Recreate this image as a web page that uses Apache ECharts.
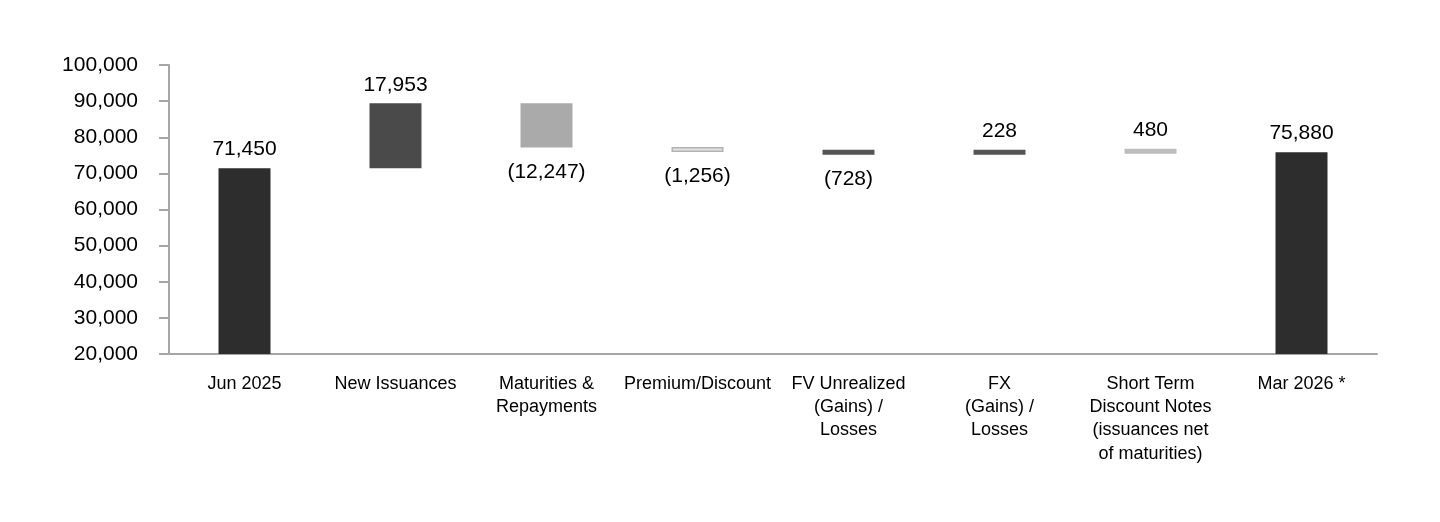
<!DOCTYPE html>
<html><head><meta charset="utf-8">
<script src="https://cdn.jsdelivr.net/npm/echarts@6/dist/echarts.min.js"></script>
<style>html,body{margin:0;padding:0;background:#fff}#c{width:1440px;height:522px}</style>
</head><body><div id="c"></div>
<script>
const categories = ['Jun 2025','New Issuances','Maturities &\nRepayments','Premium/Discount','FV Unrealized\n(Gains) /\nLosses','FX\n(Gains) /\nLosses','Short Term\nDiscount Notes\n(issuances net\nof maturities)','Mar 2026 *'];
const values = [71450, 17953, -12247, -1256, -728, 228, 480, 75880];
const isTotal = [true, false, false, false, false, false, false, true];
const yTicks = [20000, 30000, 40000, 50000, 60000, 70000, 80000, 90000, 100000];
const colors = ['#2d2d2d','#4a4a4a','#aaaaaa','#e2e2e2','#555555','#555555','#bdbdbd','#2d2d2d'];
const borders = [null,null,null,'#b3b3b3',null,null,null,null];

const fmt = v => Math.abs(v).toLocaleString('en-US');
let running = 0;
const baseData = [], barData = [];
values.forEach((v, i) => {
  let base, h;
  if (isTotal[i]) { base = 0; h = v; running = v; }
  else if (v >= 0) { base = running; h = v; running += v; }
  else { running += v; base = running; h = -v; }
  baseData.push(base);
  const neg = !isTotal[i] && v < 0;
  const item = {
    value: h,
    itemStyle: { color: colors[i] },
    label: {
      show: true,
      position: neg ? 'bottom' : 'top',
      distance: neg ? 14 : 8,
      formatter: neg ? '(' + fmt(v) + ')' : fmt(v)
    }
  };
  if (borders[i]) { item.itemStyle.borderColor = borders[i]; item.itemStyle.borderWidth = 1.5; }
  barData.push(item);
});

const chart = echarts.init(document.getElementById('c'), null, {renderer: 'canvas'});
chart.setOption({
  animation: false,
  backgroundColor: '#fff',
  grid: { left: 169, right: 63, top: 65, bottom: 168 },
  xAxis: {
    type: 'category',
    data: categories,
    axisLine: { lineStyle: { color: '#a6a6a6', width: 2 } },
    axisTick: { alignWithLabel: true, length: 11, lineStyle: { color: '#a6a6a6', width: 2 } },
    axisLabel: { interval: 0, color: '#000', fontSize: 18, lineHeight: 23.3, margin: 18, fontFamily: 'Liberation Sans, Arial, sans-serif' }
  },
  yAxis: {
    type: 'value',
    min: yTicks[0], max: yTicks[yTicks.length - 1], interval: yTicks[1] - yTicks[0],
    splitLine: { show: false },
    axisLine: { show: true, lineStyle: { color: '#a6a6a6', width: 2 } },
    axisTick: { show: true, length: 10, lineStyle: { color: '#a6a6a6', width: 2 } },
    axisLabel: { color: '#000', fontSize: 21, margin: 31, fontFamily: 'Liberation Sans, Arial, sans-serif',
      formatter: v => v.toLocaleString('en-US') }
  },
  series: [
    { type: 'bar', stack: 'w', data: baseData, itemStyle: { color: 'transparent' }, barWidth: 52, silent: true },
    { type: 'bar', stack: 'w', data: barData, barWidth: 52, barMinHeight: 5,
      label: { color: '#000', fontSize: 21, fontFamily: 'Liberation Sans, Arial, sans-serif' } }
  ]
});
</script></body></html>
